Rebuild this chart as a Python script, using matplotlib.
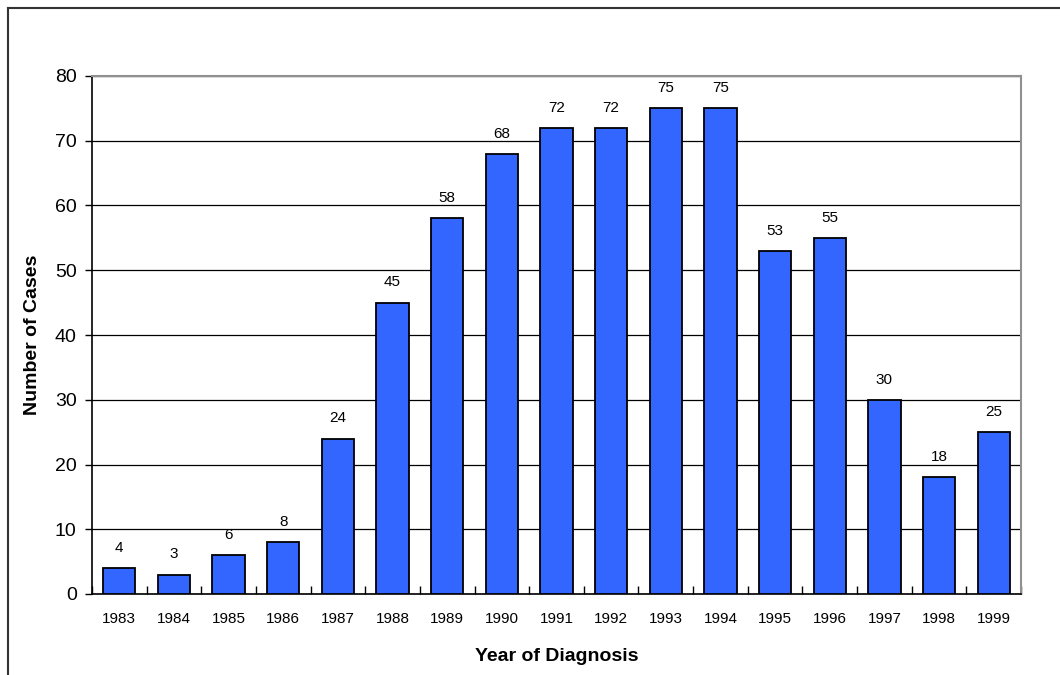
import matplotlib.pyplot as plt
from matplotlib.lines import Line2D

years = ["1983", "1984", "1985", "1986", "1987", "1988", "1989", "1990", "1991",
         "1992", "1993", "1994", "1995", "1996", "1997", "1998", "1999"]
cases = [4, 3, 6, 8, 24, 45, 58, 68, 72, 72, 75, 75, 53, 55, 30, 18, 25]

plt.rcParams['font.family'] = ['Liberation Sans', 'DejaVu Sans']

fig = plt.figure(figsize=(10.6, 6.75), dpi=100)
ax = fig.add_axes([92 / 1060, 1 - 594 / 675, (1021 - 92) / 1060, (594 - 76) / 675])

x = range(len(years))
ax.bar(x, cases, width=0.59, color='#3366FF', edgecolor='black', linewidth=1.3, zorder=3)
for xi, v in zip(x, cases):
    ax.annotate(str(v), (xi, v), xytext=(0, 14.5), textcoords='offset points',
                ha='center', va='center', fontsize=11)

ax.set_xlim(-0.5, len(years) - 0.5)
ax.set_ylim(0, 80)
ax.set_yticks(range(0, 81, 10))
# category separators as major ticks, year labels as minor ticks
ax.set_xticks([i - 0.5 for i in range(len(years) + 1)])
ax.set_xticklabels([])
ax.set_xticks(list(x), minor=True)
ax.set_xticklabels(years, minor=True, fontsize=11)
ax.tick_params(axis='x', which='minor', length=0, pad=13)
ax.tick_params(axis='x', which='major', length=6, direction='in', width=1)
ax.tick_params(axis='y', length=5, direction='out', labelsize=14, pad=6, width=1)
ax.grid(axis='y', color='black', linewidth=0.9, zorder=0)

for s in ['left', 'bottom']:
    ax.spines[s].set_color('black')
    ax.spines[s].set_linewidth(1.2)
for s in ['top', 'right']:
    ax.spines[s].set_color('#909090')
    ax.spines[s].set_linewidth(1.5)

ax.set_xlabel("Year of Diagnosis", fontsize=14, fontweight='bold', labelpad=16)
ax.set_ylabel("Number of Cases", fontsize=14, fontweight='bold', labelpad=10)

# outer frame (left and top only visible)
fig.add_artist(Line2D([8 / 1060, 8 / 1060], [0, 1 - 8 / 675], color='#333333', linewidth=1.5,
                      transform=fig.transFigure))
fig.add_artist(Line2D([8 / 1060, 1], [1 - 8 / 675, 1 - 8 / 675], color='#333333', linewidth=1.5,
                      transform=fig.transFigure))

fig.savefig("out.png", dpi=100)
